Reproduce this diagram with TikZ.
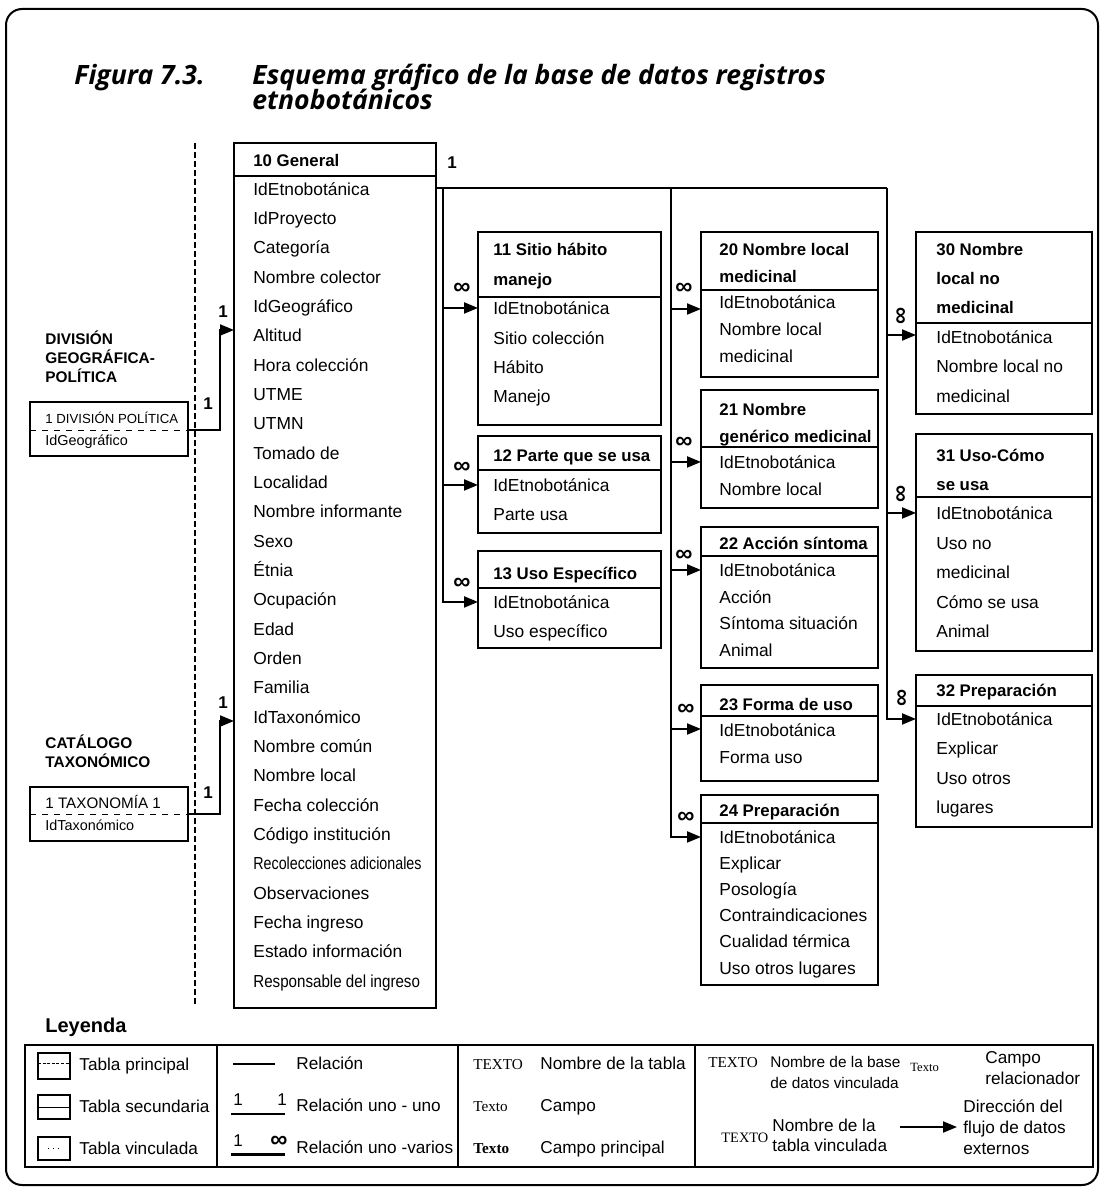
\documentclass[tikz,border=0pt]{standalone}
\usepackage{graphicx}
\usepackage{fontspec}
\setmainfont{Liberation Sans}
\newfontfamily\serifff{Liberation Serif}
\newfontfamily\titleff{Open Sans}
\usetikzlibrary{arrows.meta}
\newcommand\tabbox[5]{\node[tblbox, minimum width={(#4-#2)*0.5pt}, minimum height={(#5-#3)*0.5pt}] (#1) at ({(#2+#4)/2},{(#3+#5)/2}) {};}
\newcommand\sepline[2]{\draw[line width=0.8pt] (#1.west |- 0,#2) -- (#1.east |- 0,#2);}
\tikzset{
 fld/.style={font=\fontsize{8.7}{10}\selectfont, anchor=mid west, inner sep=0pt},
 hdr/.style={font=\bfseries\fontsize{8.4}{10}\selectfont, anchor=mid west, inner sep=0pt},
 tblbox/.style={draw, line width=0.75pt, inner sep=0pt, outer sep=0pt},
 rel/.style={line width=1pt},
 arr/.style={rel, -{Triangle[length=7pt,width=5.5pt]}},
 inf/.style={font=\bfseries\fontsize{12}{12}\selectfont, inner sep=0pt},
 onelbl/.style={font=\bfseries\fontsize{8.5}{10}\selectfont, inner sep=0pt},
 lg/.style={font=\fontsize{8.6}{10}\selectfont, anchor=mid west, inner sep=0pt},
 lgs/.style={font=\fontsize{7.7}{10}\selectfont, anchor=mid west, inner sep=0pt},
 sf/.style={font=\serifff\fontsize{7.6}{10}\selectfont, anchor=mid west, inner sep=0pt},
 capt/.style={font=\bfseries\fontsize{7.7}{10}\selectfont, anchor=mid west, inner sep=0pt},
 ttl/.style={font=\titleff\bfseries\itshape\fontsize{13.3}{15}\selectfont, anchor=base west, inner sep=0pt},
}
\begin{document}
\begin{tikzpicture}[x=0.5pt,y=-0.5pt]
\useasboundingbox (0,0) rectangle (1104,1193);
% frame
\draw[line width=1pt, rounded corners=8pt] (6,9) rectangle (1098,1185);
% title
\node[ttl] (tt1) at (74,85) {Figura 7.3.};
\node[ttl] (tt2) at (252,85) {Esquema gráfico de la base de datos registros};
\node[ttl] (tt3) at (252,110) {etnobotánicos};
% dashed separator
\draw[dashed, line width=0.6pt, dash pattern=on 3pt off 1.5pt] (195,143) -- (195,1005);

% linked tables (left)
\node[capt] (dg1) at (45,339) {DIVISIÓN};
\node[capt] (dg2) at (45,358) {GEOGRÁFICA-};
\node[capt] (dg3) at (45,377) {POLÍTICA};
\tabbox{dp}{30}{402}{188}{456}
\draw[dashed, line width=0.5pt] (dp.west |- 0,430) -- (dp.east |- 0,430);
\node[font=\fontsize{6.6}{8}\selectfont, anchor=mid west, inner sep=0pt] (dpa) at (45,418) {1 DIVISIÓN POLÍTICA};
\node[font=\fontsize{7.2}{8}\selectfont, anchor=mid west, inner sep=0pt] (dpb) at (45,440) {IdGeográfico};

\node[capt] (ct1) at (45,743) {CATÁLOGO};
\node[capt] (ct2) at (45,762) {TAXONÓMICO};
\tabbox{tx}{30}{787}{188}{841}
\draw[dashed, line width=0.5pt] (tx.west |- 0,814) -- (tx.east |- 0,814);
\node[font=\fontsize{7.6}{8}\selectfont, anchor=mid west, inner sep=0pt] (txa) at (45,803) {1 TAXONOMÍA 1};
\node[font=\fontsize{7.2}{8}\selectfont, anchor=mid west, inner sep=0pt] (txb) at (45,825) {IdTaxonómico};

% general table
\tabbox{gen}{234}{143}{436}{1008}
\sepline{gen}{176}
\node[hdr] (gh) at (253,161) {10 General};
\foreach \t [count=\i from 0] in {IdEtnobotánica, IdProyecto, Categoría, Nombre colector, IdGeográfico, Altitud, Hora colección, UTME, UTMN, Tomado de, Localidad, Nombre informante, Sexo, Étnia, Ocupación, Edad, Orden, Familia, IdTaxonómico, Nombre común, Nombre local, Fecha colección, Código institución, {\scalebox{0.82}[1]{Recolecciones adicionales}}, Observaciones, Fecha ingreso, Estado información, {\scalebox{0.87}[1]{Responsable del ingreso}}}
  \node[fld] (gf\i) at (253,{190+\i*29.33}) {\t};

% column 2
\tabbox{t11}{478}{232}{661}{425}
\sepline{t11}{297}
\node[hdr] (h11a) at (493,250) {11 Sitio hábito};
\node[hdr] (h11b) at (493,280) {manejo};
\node[fld] (e11) at (493,309) {IdEtnobotánica};
\node[fld] (f11b) at (493,339) {Sitio colección};
\node[fld] (f11c) at (493,368) {Hábito};
\node[fld] (f11d) at (493,397) {Manejo};

\tabbox{t12}{478}{436}{661}{533}
\sepline{t12}{470}
\node[hdr] (h12) at (493,456) {12 Parte que se usa};
\node[fld] (e12) at (493,486) {IdEtnobotánica};
\node[fld] (f12b) at (493,515) {Parte usa};

\tabbox{t13}{478}{551}{661}{648}
\sepline{t13}{588}
\node[hdr] (h13) at (493,574) {13 Uso Específico};
\node[fld] (e13) at (493,603) {IdEtnobotánica};
\node[fld] (f13b) at (493,632) {Uso específico};

% column 3
\tabbox{t20}{701}{232}{878}{377}
\sepline{t20}{290}
\node[hdr] (h20a) at (719,250) {20 Nombre local};
\node[hdr] (h20b) at (719,277) {medicinal};
\node[fld] (e20) at (719,303) {IdEtnobotánica};
\node[fld] (f20b) at (719,330) {Nombre local};
\node[fld] (f20c) at (719,357) {medicinal};

\tabbox{t21}{701}{390}{878}{508}
\sepline{t21}{447}
\node[hdr] (h21a) at (719,410) {21 Nombre};
\node[hdr] (h21b) at (719,437) {genérico medicinal};
\node[fld] (e21) at (719,463) {IdEtnobotánica};
\node[fld] (f21b) at (719,490) {Nombre local};

\tabbox{t22}{701}{527}{878}{668}
\sepline{t22}{556}
\node[hdr] (h22) at (719,544) {22 Acción síntoma};
\node[fld] (e22) at (719,571) {IdEtnobotánica};
\node[fld] (f22b) at (719,598) {Acción};
\node[fld] (f22c) at (719,624) {Síntoma situación};
\node[fld] (f22d) at (719,651) {Animal};

\tabbox{t23}{701}{685}{878}{781}
\sepline{t23}{716}
\node[hdr] (h23) at (719,705) {23 Forma de uso};
\node[fld] (e23) at (719,731) {IdEtnobotánica};
\node[fld] (f23b) at (719,758) {Forma uso};

\tabbox{t24}{701}{795}{878}{985}
\sepline{t24}{823}
\node[hdr] (h24) at (719,811) {24 Preparación};
\node[fld] (e24) at (719,838) {IdEtnobotánica};
\node[fld] (f24b) at (719,864) {Explicar};
\node[fld] (f24c) at (719,890) {Posología};
\node[fld] (f24d) at (719,916) {Contraindicaciones};
\node[fld] (f24e) at (719,942) {Cualidad térmica};
\node[fld] (f24f) at (719,969) {Uso otros lugares};

% column 4
\tabbox{t30}{916}{232}{1092}{414}
\sepline{t30}{323}
\node[hdr] (h30a) at (936,250) {30 Nombre};
\node[hdr] (h30b) at (936,279) {local no};
\node[hdr] (h30c) at (936,308) {medicinal};
\node[fld] (e30) at (936,338) {IdEtnobotánica};
\node[fld] (f30b) at (936,367) {Nombre local no};
\node[fld] (f30c) at (936,397) {medicinal};

\tabbox{t31}{916}{434}{1092}{651}
\sepline{t31}{497}
\node[hdr] (h31a) at (936,456) {31 Uso-Cómo};
\node[hdr] (h31b) at (936,485) {se usa};
\node[fld] (e31) at (936,514) {IdEtnobotánica};
\node[fld] (f31b) at (936,544) {Uso no};
\node[fld] (f31c) at (936,573) {medicinal};
\node[fld] (f31d) at (936,603) {Cómo se usa};
\node[fld] (f31e) at (936,632) {Animal};

\tabbox{t32}{916}{675}{1092}{827}
\sepline{t32}{706}
\node[hdr] (h32) at (936,691) {32 Preparación};
\node[fld] (e32) at (936,720) {IdEtnobotánica};
\node[fld] (f32b) at (936,749) {Explicar};
\node[fld] (f32c) at (936,779) {Uso otros};
\node[fld] (f32d) at (936,808) {lugares};

% connectors from general
\coordinate (j0) at (gen.east |- 0,188);
\coordinate (j1) at (443,188);
\coordinate (j2) at (671,188);
\coordinate (j3) at (887,188);
\draw[rel] (j0) -- (j3);
\node[onelbl] (o0) at (452,163) {1};
\draw[arr] (j1) |- (t11.west |- e11);
\draw[arr] (j1) |- (t12.west |- e12);
\draw[arr] (j1) |- (t13.west |- e13);
\draw[arr] (j2) |- (t20.west |- 0,309);
\draw[arr] (j2) |- (t21.west |- e21);
\draw[arr] (j2) |- (t22.west |- e22);
\draw[arr] (j2) |- (t23.west |- 0,729);
\draw[arr] (j2) |- (t24.west |- e24);
\draw[arr] (j3) |- (t30.west |- 0,335);
\draw[arr] (j3) |- (t31.west |- e31);
\draw[arr] (j3) |- (t32.west |- e32);
\node[inf] (i11) at (462,289) {∞};
\node[inf] (i12) at (462,468) {∞};
\node[inf] (i13) at (462,584) {∞};
\node[inf] (i20) at (684,289) {∞};
\node[inf] (i21) at (684,443) {∞};
\node[inf] (i22) at (684,556) {∞};
\node[inf] (i23) at (686,710) {∞};
\node[inf] (i24) at (686,818) {∞};
\node[inf, rotate=90] (i30) at (902,316) {∞};
\node[inf, rotate=90] (i31) at (902,494) {∞};
\node[inf, rotate=90] (i32) at (903,698) {∞};

% connectors from linked tables
\coordinate (k1) at (220,330);
\draw[arr] (dp.east |- 0,430) -| (k1) -- (gen.west |- k1);
\node[onelbl] (o1) at (223,312) {1};
\node[onelbl] (o2) at (208,404) {1};
\coordinate (k2) at (220,721);
\draw[arr] (tx.east |- 0,814) -| (k2) -- (gen.west |- k2);
\node[onelbl] (o3) at (223,703) {1};
\node[onelbl] (o4) at (208,793) {1};

% legend
\node[font=\bfseries\fontsize{10}{12}\selectfont, anchor=mid west, inner sep=0pt] (ley) at (45,1027) {Leyenda};
\tabbox{leg}{25}{1045}{1093}{1167}
\draw[line width=0.75pt] (leg.north -| 217,0) -- (leg.south -| 217,0);
\draw[line width=0.75pt] (leg.north -| 458,0) -- (leg.south -| 458,0);
\draw[line width=0.75pt] (leg.north -| 695,0) -- (leg.south -| 695,0);
\tabbox{ic1}{38}{1053}{70}{1079}
\draw[dashed, line width=0.4pt, dash pattern=on 1.5pt off 0.8pt] (ic1.west |- 0,1063) -- (ic1.east |- 0,1063);
\tabbox{ic2}{38}{1095}{70}{1119}
\draw[line width=0.5pt] (ic2.west |- 0,1107) -- (ic2.east |- 0,1107);
\tabbox{ic3}{38}{1137}{70}{1160}
\draw[dotted, line width=0.5pt] ([xshift=-3pt]ic3.center) -- ([xshift=3pt]ic3.center);
\node[lg] (l1) at (79,1065) {Tabla principal};
\node[lg] (l2) at (79,1107) {Tabla secundaria};
\node[lg] (l3) at (79,1149) {Tabla vinculada};

\draw[rel] (233,1064) -- (275,1064);
\node[lg] (l4) at (296,1064) {Relación};
\node[font=\fontsize{8.5}{10}\selectfont, inner sep=0pt] (l5a) at (238,1100) {1};
\node[font=\fontsize{8.5}{10}\selectfont, inner sep=0pt] (l5b) at (282,1100) {1};
\draw[rel] (231,1114) -- (285,1114);
\node[lg] (l5) at (296,1106) {Relación uno - uno};
\node[font=\fontsize{8.5}{10}\selectfont, inner sep=0pt] (l6a) at (238,1141) {1};
\node[inf] (l6b) at (279,1142) {∞};
\draw[line width=1.5pt] (231,1154) -- (285,1154);
\node[lg] (l6) at (296,1148) {Relación uno -varios};

\node[sf] (s1) at (473,1064) {TEXTO};
\node[lg] (l7) at (540,1064) {Nombre de la tabla};
\node[sf] (s2) at (473,1106) {Texto};
\node[lg] (l8) at (540,1106) {Campo};
\node[sf, font=\serifff\bfseries\fontsize{7.6}{10}\selectfont] (s3) at (473,1148) {Texto};
\node[lg] (l9) at (540,1148) {Campo principal};

\node[sf] (s4) at (708,1062) {TEXTO};
\node[lgs] (l10a) at (770,1062) {Nombre de la base};
\node[lgs] (l10b) at (770,1083) {de datos vinculada};
\node[sf, font=\serifff\fontsize{6.3}{8}\selectfont] (s5) at (910,1066) {Texto};
\node[lg] (l11a) at (985,1058) {Campo};
\node[lg] (l11b) at (985,1079) {relacionador};
\node[sf, font=\serifff\fontsize{7.2}{8}\selectfont] (s6) at (721,1137) {TEXTO};
\node[lg] (l12a) at (772,1126) {Nombre de la};
\node[lg] (l12b) at (772,1146) {tabla vinculada};
\coordinate (ar0) at (900,1127);
\coordinate (ar1) at (957,1127);
\draw[arr] (ar0) -- (ar1);
\node[lg] (l13a) at (963,1107) {Dirección del};
\node[lg] (l13b) at (963,1128) {flujo de datos};
\node[lg] (l13c) at (963,1149) {externos};
\end{tikzpicture}
\end{document}
